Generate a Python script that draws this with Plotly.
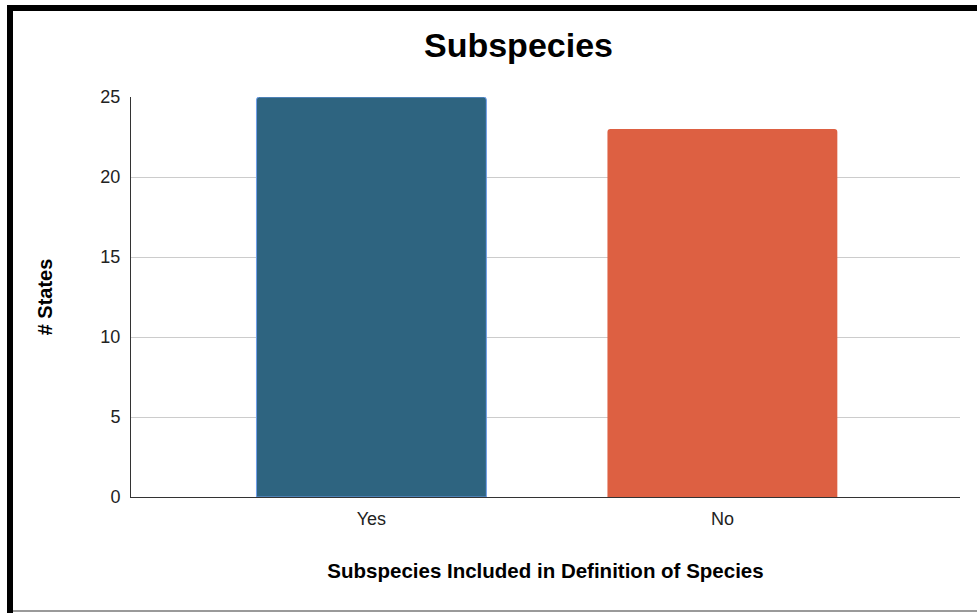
import plotly.graph_objects as go

categories = ["Yes", "No"]
values = [25, 23]
colors = ["#2e6480", "#dd6042"]
outline_colors = ["#6d9eeb", "#dd6042"]
outline_widths = [1, 0]
y_ticks = [0, 5, 10, 15, 20, 25]

W, H = 977, 613
L, R, T, B = 131, 17, 97, 116
pw, ph = W - L - R, H - T - B

def px(x):
    return (x - L) / pw

def py(y):
    return (H - B - y) / ph

fig = go.Figure(go.Bar(
    x=categories, y=values, width=0.655,
    marker=dict(color=colors, line=dict(color=outline_colors, width=outline_widths), cornerradius=3),
))

font = "Liberation Sans, Arial, sans-serif"
fig.update_layout(
    width=W, height=H, margin=dict(l=L, r=R, t=T, b=B),
    paper_bgcolor="white", plot_bgcolor="white",
    font=dict(family=font, color="#222222", size=18),
    showlegend=False,
    title=dict(text="<b>Subspecies</b>", xref="container", x=518.5 / W, xanchor="center",
               y=1 - 45 / H, yanchor="middle",
               font=dict(size=34, color="black", family=font)),
    xaxis=dict(range=[-0.685, 1.677], showline=True, linecolor="#333333", linewidth=1,
               tickfont=dict(size=18, color="#222222"), ticks="", showgrid=False,
               ticklabelstandoff=5,
               title=dict(text="<b>Subspecies Included in Definition of Species</b>",
                          font=dict(size=20.5, color="black"), standoff=36)),
    yaxis=dict(range=[0, 25], tickvals=y_ticks, showline=True, linecolor="#333333", linewidth=1,
               gridcolor="#cccccc", gridwidth=1, tickfont=dict(size=18, color="#222222"),
               ticks="", zeroline=False, ticklabelstandoff=6,
               title=dict(text="<b># States</b>", font=dict(size=20, color="black"), standoff=42)),
    shapes=[
        dict(type="rect", xref="paper", yref="paper", x0=px(7), x1=px(980), y0=py(5), y1=py(11),
             fillcolor="black", line_width=0, layer="above"),
        dict(type="rect", xref="paper", yref="paper", x0=px(7), x1=px(13), y0=py(5), y1=py(616),
             fillcolor="black", line_width=0, layer="above"),
        dict(type="rect", xref="paper", yref="paper", x0=px(13), x1=px(980), y0=py(610), y1=py(612),
             fillcolor="#9a9a9a", line_width=0, layer="above"),
    ],
)

fig.write_html("out.html", config={"displayModeBar": False},
               post_script="document.body.style.margin='0';")
